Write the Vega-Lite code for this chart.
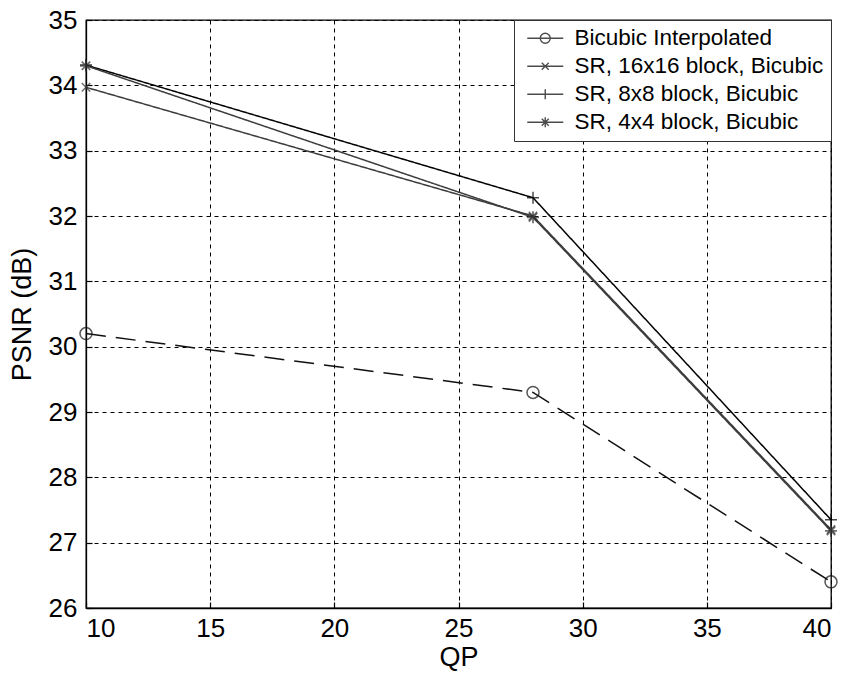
{
  "$schema": "https://vega.github.io/schema/vega-lite/v6.json",
  "width": 745,
  "height": 588,
  "autosize": {"type": "none"},
  "padding": {"left": 86, "top": 20, "right": 14, "bottom": 65},
  "background": "white",
  "config": {
    "font": "Liberation Sans",
    "view": {"stroke": "black", "strokeWidth": 1.3},
    "axis": {
      "labelFont": "Liberation Sans",
      "labelFontSize": 26,
      "labelColor": "black",
      "titleFont": "Liberation Sans",
      "titleFontSize": 27,
      "titleFontWeight": "normal",
      "titleColor": "black",
      "domainColor": "black",
      "domainWidth": 1.3,
      "tickColor": "black",
      "tickSize": -6,
      "tickWidth": 1.2,
      "gridColor": "black",
      "gridDash": [4, 4],
      "gridOpacity": 1,
      "gridWidth": 1
    }
  },
  "data": {
    "values": [
      {"series": "Bicubic Interpolated", "QP": 10, "PSNR": 30.2},
      {"series": "Bicubic Interpolated", "QP": 28, "PSNR": 29.3},
      {"series": "Bicubic Interpolated", "QP": 40, "PSNR": 26.4},
      {"series": "SR, 16x16 block, Bicubic", "QP": 10, "PSNR": 33.97},
      {"series": "SR, 16x16 block, Bicubic", "QP": 28, "PSNR": 32.0},
      {"series": "SR, 16x16 block, Bicubic", "QP": 40, "PSNR": 27.2},
      {"series": "SR, 8x8 block, Bicubic", "QP": 10, "PSNR": 34.31},
      {"series": "SR, 8x8 block, Bicubic", "QP": 28, "PSNR": 32.28},
      {"series": "SR, 8x8 block, Bicubic", "QP": 40, "PSNR": 27.35},
      {"series": "SR, 4x4 block, Bicubic", "QP": 10, "PSNR": 34.3},
      {"series": "SR, 4x4 block, Bicubic", "QP": 28, "PSNR": 31.98},
      {"series": "SR, 4x4 block, Bicubic", "QP": 40, "PSNR": 27.18}
    ]
  },
  "encoding": {
    "x": {
      "field": "QP",
      "type": "quantitative",
      "scale": {"domain": [10, 40], "nice": false},
      "axis": {"values": [10, 15, 20, 25, 30, 35, 40], "title": "QP", "labelPadding": 13, "titlePadding": 3}
    },
    "y": {
      "field": "PSNR",
      "type": "quantitative",
      "scale": {"domain": [26, 35], "nice": false, "zero": false},
      "axis": {"values": [26, 27, 28, 29, 30, 31, 32, 33, 34, 35], "title": "PSNR (dB)", "labelPadding": 15, "titlePadding": 12}
    }
  },
  "layer": [
    {
      "mark": {"type": "line", "strokeWidth": 1.5},
      "encoding": {
        "stroke": {
          "field": "series",
          "type": "nominal",
          "scale": {"range": ["#111111", "#3c3c3c", "#3c3c3c", "#000000"]},
          "legend": null
        },
        "strokeDash": {
          "field": "series",
          "type": "nominal",
          "scale": {"range": [[20, 10], [1, 0], [1, 0], [1, 0]]},
          "legend": null
        }
      }
    },
    {
      "transform": [{"filter": "datum.series === 'Bicubic Interpolated'"}],
      "mark": {"type": "point", "filled": false, "size": 144, "strokeWidth": 1.5, "color": "#111111", "shape": "M-1,0A1,1,0,1,1,1,0A1,1,0,1,1,-1,0Z"}
    },
    {
      "transform": [{"filter": "datum.series === 'SR, 16x16 block, Bicubic'"}],
      "mark": {"type": "point", "filled": false, "size": 144, "strokeWidth": 1.5, "color": "#333333", "shape": "M-0.7,-0.7L0.7,0.7M-0.7,0.7L0.7,-0.7"}
    },
    {
      "transform": [{"filter": "datum.series === 'SR, 8x8 block, Bicubic'"}],
      "mark": {"type": "point", "filled": false, "size": 144, "strokeWidth": 1.5, "color": "#000000", "shape": "M-1,0H1M0,-1V1"}
    },
    {
      "transform": [{"filter": "datum.series === 'SR, 4x4 block, Bicubic'"}],
      "mark": {"type": "point", "filled": false, "size": 144, "strokeWidth": 1.8, "color": "#333333", "shape": "M-1,0H1M0,-1V1M-0.7,-0.7L0.7,0.7M-0.7,0.7L0.7,-0.7"}
    },
    {
      "mark": {"type": "point", "filled": false, "size": 0, "strokeWidth": 1.4, "color": "black"},
      "encoding": {
        "shape": {
          "field": "series",
          "type": "nominal",
          "scale": {
            "domain": ["Bicubic Interpolated", "SR, 16x16 block, Bicubic", "SR, 8x8 block, Bicubic", "SR, 4x4 block, Bicubic"],
            "range": [
              "M-3.6,0H3.6M-1,0A1,1,0,1,1,1,0A1,1,0,1,1,-1,0",
              "M-3.6,0H3.6M-0.7,-0.7L0.7,0.7M-0.7,0.7L0.7,-0.7",
              "M-3.6,0H3.6M0,-1V1",
              "M-3.6,0H3.6M0,-1V1M-0.7,-0.7L0.7,0.7M-0.7,0.7L0.7,-0.7"
            ]
          },
          "legend": {
            "title": null,
            "orient": "top-right",
            "offset": 0,
            "padding": 7,
            "strokeColor": "#333333",
            "fillColor": "white",
            "labelFont": "Liberation Sans",
            "labelFontSize": 22.5,
            "labelColor": "black",
            "labelLimit": 400,
            "labelExpr": "datum.label + '\u00a0\u00a0\u00a0'",
            "symbolSize": 100,
            "symbolStrokeWidth": 1.4,
            "symbolStrokeColor": "black",
            "symbolFillColor": "transparent",
            "symbolOffset": 13,
            "labelOffset": 18,
            "rowPadding": 5
          }
        }
      }
    }
  ]
}
